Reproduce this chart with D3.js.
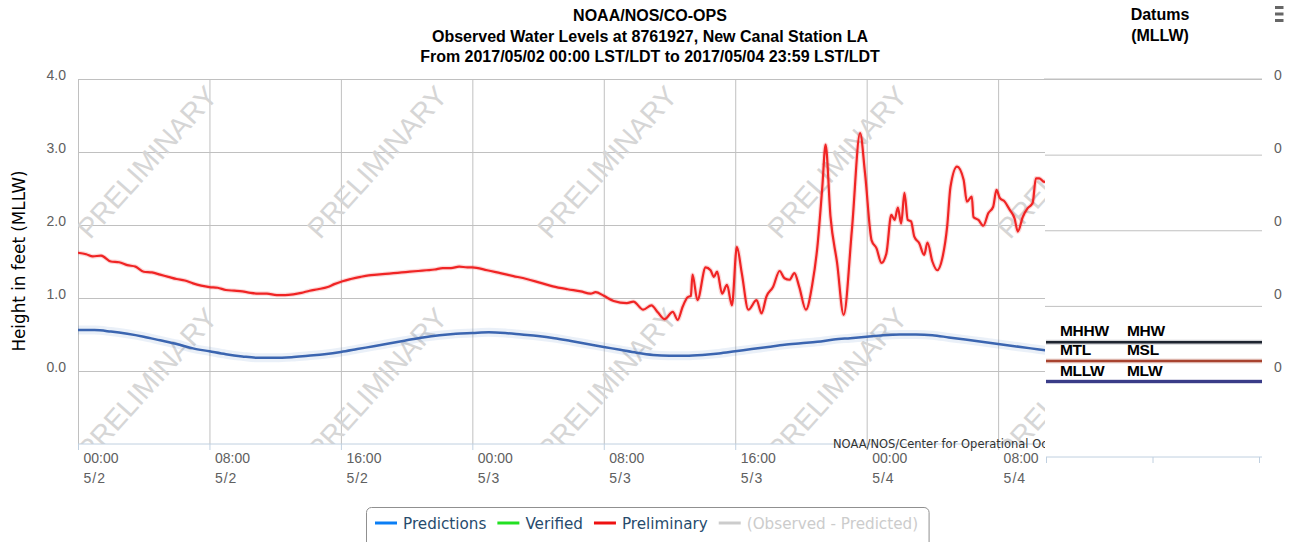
<!DOCTYPE html>
<html>
<head>
<meta charset="utf-8">
<script src="https://cdn.jsdelivr.net/npm/d3@7"></script>
<style>
body { margin: 0; background: #fff; }
svg { display: block; font-family: "DejaVu Sans", sans-serif; }
</style>
</head>
<body>
<div id="chart"></div>
<script>
var startTime = Date.UTC(2017, 4, 2, 0, 0);
var endTime = Date.UTC(2017, 4, 5, 0, 0);

// predictions (ft MLLW), one value per hour from 5/2 00:00
var predLevels = [0.56, 0.56, 0.54, 0.51, 0.47, 0.42, 0.37, 0.31, 0.27, 0.23,
    0.20, 0.18, 0.18, 0.19, 0.21, 0.23, 0.26, 0.30, 0.34, 0.38,
    0.42, 0.46, 0.49, 0.51, 0.52, 0.53, 0.52, 0.50, 0.48, 0.45,
    0.41, 0.37, 0.33, 0.29, 0.25, 0.22, 0.21, 0.21, 0.22, 0.24,
    0.27, 0.30, 0.33, 0.36, 0.38, 0.40, 0.43, 0.45, 0.47, 0.49,
    0.50, 0.50, 0.49, 0.46, 0.43, 0.40, 0.37, 0.34, 0.31, 0.28, 0.25];

// preliminary observations: hours after 5/2 00:00 and level (ft MLLW)
var prelimHours = [0.0, 0.5, 0.9, 1.4, 2.0, 2.5, 3.0, 3.5, 4.0, 4.5,
    5.0, 5.5, 6.0, 6.5, 7.0, 7.5, 8.0, 8.5, 9.0, 9.5,
    10.0, 10.5, 11.0, 11.5, 12.1, 12.6, 13.1, 13.6, 14.1, 14.6,
    15.2, 15.6, 16.1, 16.6, 17.2, 17.7, 18.2, 18.7, 19.2, 19.7,
    20.2, 20.7, 21.2, 21.7, 22.2, 22.7, 23.2, 23.7, 24.0, 24.9,
    25.7, 26.5, 27.3, 28.1, 28.9, 29.8, 30.6, 31.2, 31.5, 32.0,
    32.6, 33.4, 33.8, 34.4, 34.9, 35.3, 35.7, 36.2, 36.5, 36.8,
    37.1, 37.3, 37.4, 37.7, 38.2, 38.5, 38.7, 38.9, 39.2, 39.5,
    39.8, 40.1, 40.4, 40.8, 41.3, 41.6, 41.9, 42.3, 42.7, 43.0,
    43.3, 43.6, 43.9, 44.3, 44.7, 45.0, 45.3, 45.5, 45.8, 46.2,
    46.6, 47.1, 47.6, 47.9, 48.3, 48.6, 48.9, 49.2, 49.5, 49.7,
    49.9, 50.1, 50.3, 50.5, 50.7, 50.9, 51.2, 51.5, 51.7, 52.0,
    52.3, 52.6, 52.9, 53.1, 53.5, 53.9, 54.1, 54.4, 54.5, 54.8,
    55.1, 55.4, 55.7, 55.9, 56.1, 56.4, 56.7, 57.0, 57.2, 57.5,
    57.8, 58.1, 58.3, 58.5, 58.8, 59.0];
var prelimLevels = [1.62, 1.60, 1.57, 1.58, 1.50, 1.49, 1.45, 1.43, 1.36, 1.35,
    1.32, 1.29, 1.26, 1.24, 1.20, 1.17, 1.15, 1.14, 1.11, 1.10,
    1.09, 1.07, 1.06, 1.06, 1.04, 1.04, 1.05, 1.07, 1.10, 1.12,
    1.15, 1.19, 1.23, 1.26, 1.29, 1.31, 1.32, 1.33, 1.34, 1.35,
    1.36, 1.37, 1.38, 1.39, 1.41, 1.41, 1.43, 1.42, 1.42, 1.38,
    1.34, 1.30, 1.26, 1.21, 1.16, 1.12, 1.09, 1.06, 1.08, 1.03,
    0.96, 0.93, 0.95, 0.84, 0.90, 0.80, 0.71, 0.81, 0.70, 0.88,
    1.01, 1.03, 1.32, 0.97, 1.42, 1.38, 1.29, 1.36, 1.06, 1.18,
    0.90, 1.70, 1.34, 0.84, 0.97, 0.79, 1.02, 1.15, 1.37, 1.27,
    1.25, 1.34, 1.15, 0.84, 1.20, 1.70, 2.52, 3.10, 2.11, 1.48,
    0.77, 1.93, 3.26, 2.71, 1.79, 1.68, 1.48, 1.61, 2.14, 2.07,
    2.24, 2.02, 2.44, 2.07, 2.05, 1.84, 1.75, 1.59, 1.76, 1.50,
    1.38, 1.54, 1.98, 2.52, 2.80, 2.62, 2.32, 2.39, 2.11, 2.07,
    1.99, 2.16, 2.25, 2.48, 2.37, 2.32, 2.21, 2.09, 1.91, 2.11,
    2.23, 2.30, 2.64, 2.64, 2.59, 2.62];

var yTicks = [0, 1, 2, 3, 4];
var titleLines = ['NOAA/NOS/CO-OPS',
    'Observed Water Levels at 8761927, New Canal Station LA',
    'From 2017/05/02 00:00 LST/LDT to 2017/05/04 23:59 LST/LDT'];

var datumNames = ['MHHW', 'MTL', 'MLLW'];
var datumPairNames = ['MHW', 'MSL', 'MLW'];
var datumLevels = [0.052, 0.027, 0.0];
var datumGridTicks = [0.1, 0.2, 0.3, 0.4];
var rightTicks = [0, 0.1, 0.2, 0.3, 0.4];

var legendNames = ['Predictions', 'Verified', 'Preliminary', '(Observed - Predicted)'];
var legendColors = ['#0a7ef5', '#22e022', '#ee1111', '#cccccc'];
var legendHidden = [false, false, false, true];

var plotLeft = 78, plotRight = 1261, plotTop = 79, plotBottom = 444;
var panelLeft = 1045;
var hour = 3600 * 1000;

var svg = d3.select('#chart').append('svg')
    .attr('width', 1292)
    .attr('height', 542);

svg.append('defs').append('clipPath').attr('id', 'plotClip')
    .append('rect')
    .attr('x', plotLeft).attr('y', plotTop)
    .attr('width', panelLeft - plotLeft).attr('height', plotBottom - plotTop);

var x = d3.scaleUtc().domain([startTime, endTime]).range([plotLeft, plotRight]);
var y = d3.scaleLinear().domain([-1, 4]).range([plotBottom, plotTop]);
var xTicks = x.ticks(d3.utcHour.every(8)).filter(function(d) { return x(d) < panelLeft; });

// grid lines
var gy = svg.append('g')
    .attr('transform', 'translate(' + plotLeft + ',0)')
    .call(d3.axisLeft(y).tickValues(yTicks).tickSize(-(panelLeft - plotLeft)).tickFormat(''));
gy.select('.domain').remove();
gy.selectAll('line').attr('stroke', '#c0c0c0');

var gxg = svg.append('g')
    .attr('transform', 'translate(0,' + plotBottom + ')')
    .call(d3.axisBottom(x).tickValues(xTicks).tickSize(-(plotBottom - plotTop)).tickFormat(''));
gxg.select('.domain').remove();
gxg.selectAll('line').attr('stroke', '#c0c0c0');

// watermark
var wm = svg.append('g').attr('clip-path', 'url(#plotClip)');
[162, 384].forEach(function(cy) {
    for (var i = 0; i < 5; i++) {
        wm.append('text')
            .attr('transform', 'translate(' + (147 + 230 * i) + ',' + cy + ') rotate(-48)')
            .attr('text-anchor', 'middle')
            .attr('dy', '0.35em')
            .style('font-family', '"Liberation Sans", Arial, sans-serif')
            .style('font-size', '28.5px')
            .attr('fill', '#d6d6d6')
            .text('PRELIMINARY');
    }
});

// series
var plot = svg.append('g').attr('clip-path', 'url(#plotClip)');

var predLine = d3.line()
    .x(function(d, i) { return x(startTime + i * hour); })
    .y(function(d) { return y(d); })
    .curve(d3.curveMonotoneX);

plot.append('path').datum(predLevels)
    .attr('d', predLine)
    .attr('fill', 'none')
    .attr('stroke', 'rgba(80,130,200,0.12)')
    .attr('stroke-width', 9);
plot.append('path').datum(predLevels)
    .attr('d', predLine)
    .attr('fill', 'none')
    .attr('stroke', '#3b65b0')
    .attr('stroke-width', 2.5);

var prelimLine = d3.line()
    .x(function(d, i) { return x(startTime + prelimHours[i] * hour); })
    .y(function(d) { return y(d); })
    .curve(d3.curveMonotoneX);

plot.append('path').datum(prelimLevels)
    .attr('d', prelimLine)
    .attr('fill', 'none')
    .attr('stroke', 'rgba(240,40,40,0.18)')
    .attr('stroke-width', 4.5);
plot.append('path').datum(prelimLevels)
    .attr('d', prelimLine)
    .attr('fill', 'none')
    .attr('stroke', '#f02424')
    .attr('stroke-width', 2.2)
    .attr('stroke-linejoin', 'round');

// x axis
var xAxis = svg.append('g')
    .attr('transform', 'translate(0,' + plotBottom + ')')
    .call(d3.axisBottom(x).tickValues(xTicks).tickSizeInner(6).tickSizeOuter(0).tickFormat(''));
xAxis.select('.domain').attr('stroke', '#c0d0e0').attr('d', 'M' + plotLeft + ',0H' + panelLeft);
xAxis.selectAll('.tick line').attr('stroke', '#c0d0e0');
var fmtTime = d3.utcFormat('%H:%M');
var fmtDay = d3.utcFormat('%-m/%-d');
xAxis.selectAll('.tick').each(function(d) {
    var t = d3.select(this);
    t.append('text').attr('x', 5).attr('y', 19)
        .attr('fill', '#606060').attr('text-anchor', 'start')
        .style('font-size', '14px').text(fmtTime(d));
    t.append('text').attr('x', 5).attr('y', 39)
        .attr('fill', '#606060').attr('text-anchor', 'start')
        .style('font-size', '14px').style('letter-spacing', '1px').text(fmtDay(d));
});

// y axis labels
var yAxis = svg.append('g')
    .attr('transform', 'translate(' + plotLeft + ',0)')
    .call(d3.axisLeft(y).tickValues(yTicks).tickSize(0).tickPadding(12).tickFormat(d3.format('.1f')));
yAxis.select('.domain').remove();
yAxis.selectAll('text')
    .attr('dy', '0.04em')
    .attr('fill', '#606060')
    .style('font-size', '14px');

svg.append('text')
    .attr('transform', 'translate(25,261) rotate(-90)')
    .attr('text-anchor', 'middle')
    .style('font-size', '16.8px')
    .attr('fill', '#000')
    .text('Height in feet (MLLW)');

// credits, cut off where the datums panel starts
svg.append('defs').append('clipPath').attr('id', 'creditClip')
    .append('rect').attr('x', 800).attr('y', 430).attr('width', panelLeft - 800).attr('height', 30);
svg.append('text')
    .attr('clip-path', 'url(#creditClip)')
    .attr('x', 833).attr('y', 448)
    .style('font-size', '11.5px')
    .attr('fill', '#333')
    .text('NOAA/NOS/Center for Operational Oceanographic Products and Services');

// title
svg.append('g').selectAll('text').data(titleLines).join('text')
    .attr('x', 650)
    .attr('y', function(d, i) { return 21 + i * 20.5; })
    .attr('text-anchor', 'middle')
    .style('font-family', '"Liberation Sans", Arial, sans-serif')
    .style('font-weight', 'bold')
    .style('font-size', '16px')
    .text(function(d) { return d; });

// legend
var legend = svg.append('g');
var lx = 375;
legendNames.forEach(function(name, i) {
    legend.append('line')
        .attr('x1', lx).attr('x2', lx + 22)
        .attr('y1', 523).attr('y2', 523)
        .attr('stroke', legendColors[i])
        .attr('stroke-width', 3);
    var t = legend.append('text')
        .attr('x', lx + 28).attr('y', 528.5)
        .style('font-size', '15.2px')
        .attr('fill', legendHidden[i] ? '#cccccc' : '#274b6d')
        .text(name);
    lx = lx + 28 + t.node().getComputedTextLength() + 11;
});
legend.insert('rect', ':first-child')
    .attr('x', 366.5).attr('y', 507.5)
    .attr('width', lx - 366.5).attr('height', 40)
    .attr('rx', 5)
    .attr('fill', '#fff')
    .attr('stroke', '#909090');

// datums panel
svg.append('line')
    .attr('x1', panelLeft - 1).attr('x2', 1262)
    .attr('y1', plotTop).attr('y2', plotTop)
    .attr('stroke', '#c0c0c0');

var dy = d3.scaleLinear().domain([0, 0.4]).range([381.5, 79]);
var dx = d3.scaleLinear().domain([0, 2]).range([1046, 1259]);

var dGrid = svg.append('g')
    .attr('transform', 'translate(' + panelLeft + ',0)')
    .call(d3.axisLeft(dy).tickValues(datumGridTicks).tickSize(-(1262 - panelLeft)).tickFormat(''));
dGrid.select('.domain').remove();
dGrid.selectAll('line').attr('stroke', '#c0c0c0');

var rAxis = svg.append('g')
    .attr('transform', 'translate(1262,0)')
    .call(d3.axisRight(d3.scaleLinear().domain([0, 0.4]).range([371, 79]))
        .tickValues(rightTicks).tickSize(0).tickPadding(12).tickFormat(d3.format('.0f')));
rAxis.select('.domain').remove();
rAxis.selectAll('text')
    .attr('dy', '0.04em')
    .attr('fill', '#606060')
    .style('font-size', '14px');

var dAxis = svg.append('g')
    .attr('transform', 'translate(0,457)')
    .call(d3.axisBottom(dx).tickValues([0, 1, 2]).tickSizeInner(6).tickSizeOuter(0).tickFormat(''));
dAxis.select('.domain').attr('stroke', '#c0d0e0').attr('d', 'M1046,0H1262');
dAxis.selectAll('.tick line').attr('stroke', '#c0d0e0');

var datumStroke = ['#1e2530', '#a8432f', '#3a3c88'];
var datumWidth = [2.5, 2.5, 3];
var dLines = svg.append('g');
dLines.selectAll('line.halo').data(datumLevels).join('line')
    .attr('class', 'halo')
    .attr('x1', 1046).attr('x2', 1262)
    .attr('y1', function(d) { return dy(d); })
    .attr('y2', function(d) { return dy(d); })
    .attr('stroke', function(d, i) { return datumStroke[i]; })
    .attr('stroke-opacity', 0.2)
    .attr('stroke-width', 5);
dLines.selectAll('line.main').data(datumLevels).join('line')
    .attr('class', 'main')
    .attr('x1', 1046).attr('x2', 1262)
    .attr('y1', function(d) { return dy(d); })
    .attr('y2', function(d) { return dy(d); })
    .attr('stroke', function(d, i) { return datumStroke[i]; })
    .attr('stroke-width', function(d, i) { return datumWidth[i]; });

var dLabels = svg.append('g')
    .style('font-family', '"Liberation Sans", Arial, sans-serif')
    .style('font-weight', 'bold')
    .style('font-size', '15.5px')
    .attr('fill', '#000');
dLabels.selectAll('text.a').data(datumLevels).join('text')
    .attr('class', 'a')
    .attr('x', 1060)
    .attr('y', function(d) { return dy(d) - 6; })
    .style('letter-spacing', '-0.3px')
    .text(function(d, i) { return datumNames[i]; });
dLabels.selectAll('text.b').data(datumLevels).join('text')
    .attr('class', 'b')
    .attr('x', 1127)
    .attr('y', function(d) { return dy(d) - 6; })
    .style('letter-spacing', '-0.3px')
    .text(function(d, i) { return datumPairNames[i]; });

svg.append('g').selectAll('text').data(['Datums', '(MLLW)']).join('text')
    .attr('x', 1160)
    .attr('y', function(d, i) { return 20 + i * 21; })
    .attr('text-anchor', 'middle')
    .style('font-family', '"Liberation Sans", Arial, sans-serif')
    .style('font-weight', 'bold')
    .style('font-size', '16px')
    .text(function(d) { return d; });

// menu icon
svg.append('g').selectAll('rect').data([0, 1, 2]).join('rect')
    .attr('x', 1275).attr('y', function(d) { return 6 + d * 6.5; })
    .attr('width', 8.5).attr('height', 3)
    .attr('fill', '#666');
</script>
</body>
</html>
